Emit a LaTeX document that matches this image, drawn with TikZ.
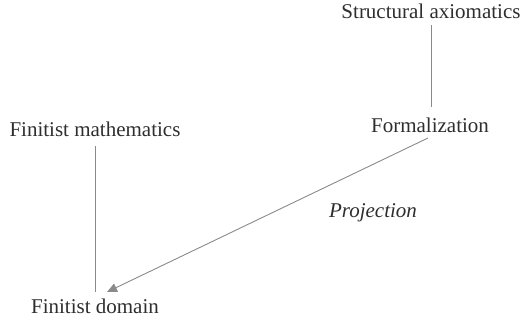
\documentclass[tikz,border=0pt]{standalone}
\usepackage{fontspec}
\setmainfont{Liberation Serif}
\usetikzlibrary{arrows.meta}
\definecolor{txt}{HTML}{2E2E2E}
\definecolor{ln}{HTML}{8A8A8A}
\begin{document}
\begin{tikzpicture}[x=1pt,y=-1pt,
  lbl/.style={text=txt,font=\fontsize{21}{24}\selectfont,inner sep=0pt,anchor=base},
  conn/.style={draw=ln,line width=0.9pt}]
\useasboundingbox (0,0) rectangle (522,320);
\node[lbl] (sa) at (431,19) {Structural axiomatics};
\node[lbl] (fo) at (430,133) {Formalization};
\node[lbl] (fm) at (95,137) {Finitist mathematics};
\node[lbl] (fd) at (95,313) {Finitist domain};
\node[lbl,font=\fontsize{21}{24}\selectfont\itshape] (pr) at (373,218) {Projection};
\coordinate (sab) at (431,25);
\coordinate (fot) at (431,107);
\coordinate (fob) at (428,138);
\coordinate (fmb) at (95,146);
\coordinate (fdt) at (95,292);
\coordinate (fda) at (107,292);
\draw[conn] (sab) -- (fot);
\draw[conn] (fmb) -- (fdt);
\draw[conn,-{Triangle[length=10pt,width=9pt]},ln] (fob) -- (fda);
\end{tikzpicture}
\end{document}
